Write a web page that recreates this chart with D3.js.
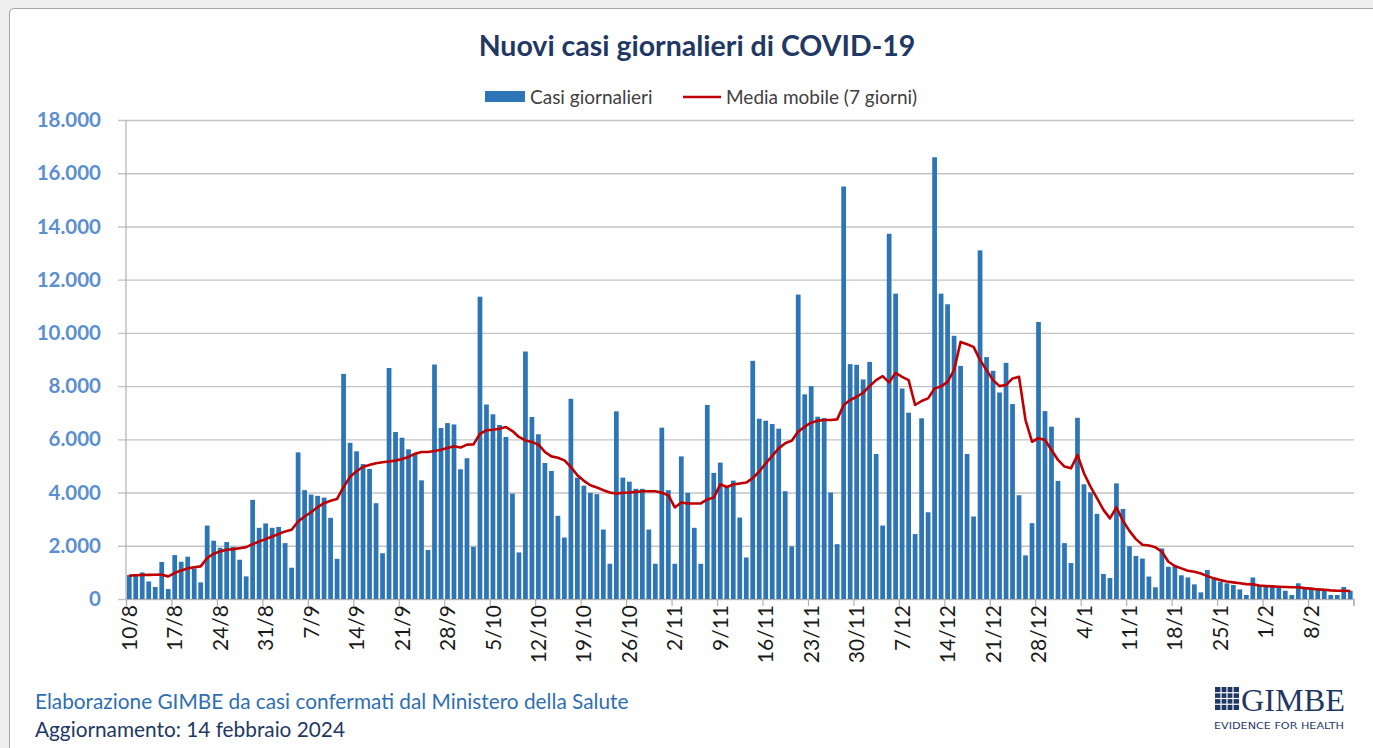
<!DOCTYPE html>
<html><head><meta charset="utf-8">
<script src="https://cdn.jsdelivr.net/npm/d3@7"></script>
<style>html,body{margin:0;padding:0;background:#fff;} svg{display:block;}</style>
</head><body><svg id="chart" width="1373" height="748"></svg>
<script>
// ---- DATA ----
const startDate = new Date(2023, 7, 10);
const tickLabels = ["10/8","17/8","24/8","31/8","7/9","14/9","21/9","28/9","5/10","12/10","19/10","26/10","2/11","9/11","16/11","23/11","30/11","7/12","14/12","21/12","28/12","4/1","11/1","18/1","25/1","1/2","8/2"];
const yTicks = [0, 2000, 4000, 6000, 8000, 10000, 12000, 14000, 16000, 18000];
const cases = [
  900, 900, 1000, 660, 450, 1390, 375,
  1650, 1400, 1590, 1150, 625, 2760, 2190,
  1925, 2140, 1960, 1475, 850, 3725, 2675,
  2840, 2675, 2710, 2100, 1175, 5510, 4090,
  3925, 3875, 3810, 3050, 1510, 8460, 5870,
  5550, 5070, 4890, 3600, 1720, 8680, 6275,
  6060, 5625, 5450, 4460, 1840, 8810, 6425,
  6610, 6560, 4875, 5290, 1960, 11360, 7310,
  6940, 6540, 6090, 3960, 1750, 9300, 6840,
  6190, 5110, 4810, 3125, 2310, 7525, 4560,
  4260, 3990, 3940, 2610, 1325, 7050, 4560,
  4410, 4140, 4140, 2610, 1325, 6440, 4090,
  1325, 5360, 3990, 2675, 1325, 7290, 4740,
  5125, 4210, 4450, 3060, 1560, 8950, 6775,
  6700, 6575, 6400, 4050, 1975, 11440, 7690,
  8000, 6850, 6800, 4000, 2060, 15500, 8825,
  8800, 8250, 8910, 5450, 2760, 13725, 11475,
  7910, 7000, 2440, 6790, 3260, 16600, 11475,
  11075, 9890, 8760, 5450, 3100, 13100, 9090,
  8575, 7760, 8875, 7325, 3900, 1640, 2850,
  10410, 7060, 6475, 4440, 2100, 1350, 6810,
  4310, 4010, 3200, 940, 790, 4345, 3385,
  1980, 1615, 1520, 845, 440, 1900, 1210,
  1240, 890, 810, 550, 250, 1090, 750,
  650, 590, 525, 360, 150, 810, 525,
  490, 460, 460, 310, 150, 590, 400,
  400, 360, 340, 150, 150, 450, 310
];
const movingAvg = [
  880, 890, 900, 905, 910, 915, 850,
  975, 1075, 1150, 1190, 1225, 1540, 1700,
  1790, 1850, 1875, 1910, 1950, 2060, 2160,
  2250, 2350, 2440, 2540, 2600, 2910, 3100,
  3260, 3450, 3600, 3690, 3760, 4210, 4590,
  4800, 4970, 5040, 5100, 5140, 5170, 5200,
  5260, 5340, 5460, 5525, 5525, 5560, 5610,
  5675, 5740, 5690, 5800, 5810, 6210, 6340,
  6360, 6400, 6460, 6310, 6090, 5960, 5900,
  5800, 5525, 5360, 5310, 5210, 4960, 4650,
  4440, 4275, 4190, 4090, 4000, 3960, 3990,
  4000, 4025, 4050, 4050, 4050, 3990, 3900,
  3440, 3625, 3590, 3590, 3590, 3740, 3810,
  4310, 4210, 4300, 4340, 4375, 4540, 4790,
  5100, 5375, 5660, 5850, 5950, 6290, 6475,
  6625, 6700, 6725, 6725, 6750, 7290, 7475,
  7600, 7750, 8000, 8225, 8375, 8140, 8500,
  8350, 8225, 7290, 7440, 7540, 7910, 7990,
  8160, 8600, 9660, 9575, 9475, 8975, 8600,
  8225, 8000, 8040, 8290, 8350, 6725, 5910,
  6040, 5975, 5600, 5225, 4975, 4910, 5410,
  4725, 4225, 3790, 3350, 3030, 3440, 2940,
  2560, 2250, 2040, 2010, 1940, 1775, 1400,
  1240, 1150, 1060, 1025, 960, 860, 775,
  710, 660, 625, 590, 560, 550, 510,
  490, 475, 460, 450, 440, 440, 410,
  390, 360, 350, 325, 310, 310, 300
];
const dates = d3.timeDay.range(startDate, d3.timeDay.offset(startDate, cases.length));

// ---- LAYOUT ----
const svg = d3.select("#chart");
const W = 1373, H = 748;
const plotL = 126, plotR = 1353.5, plotT = 120, plotB = 599;
const FONT = "Lato, 'Open Sans', sans-serif";

svg.append("rect").attr("width", W).attr("height", H).attr("fill", "#eeeeee");
svg.append("rect").attr("x", 9.5).attr("y", 8.5).attr("width", W + 20).attr("height", H + 20)
  .attr("rx", 4).attr("fill", "#ffffff").attr("stroke", "#a6a6a6");

const x = d3.scaleBand().domain(d3.range(dates.length)).range([plotL, plotR])
  .paddingInner(0.27).paddingOuter(0.135);
const xb = d3.scaleLinear().domain([0, dates.length]).range([plotL, plotR]);
const y = d3.scaleLinear().domain([0, 18000]).range([plotB, plotT]);
const fmt = d3.formatLocale({decimal: ",", thousands: ".", grouping: [3], currency: ["€", ""]}).format(",d");

// gridlines + y labels
const yAxis = svg.append("g").attr("transform", `translate(118,0)`)
  .call(d3.axisLeft(y).tickValues(yTicks).tickSize(-(1354 - 118)).tickPadding(17).tickFormat(fmt));
yAxis.select(".domain").remove();
yAxis.selectAll(".tick line").attr("stroke", "#c4c4c4").attr("stroke-width", 1.4);
yAxis.selectAll(".tick text").attr("fill", "#5b8fd0").attr("font-family", FONT)
  .attr("font-weight", "bold").attr("font-size", 20.5);

// vertical axis line
svg.append("line").attr("x1", plotL).attr("x2", plotL).attr("y1", plotT).attr("y2", plotB)
  .attr("stroke", "#b0b0b0").attr("stroke-width", 1.2);

// bars
svg.append("g").selectAll("rect").data(cases).join("rect")
  .attr("x", (d, i) => x(i)).attr("width", x.bandwidth())
  .attr("y", d => y(d)).attr("height", d => y(0) - y(d))
  .attr("fill", "#2e75b6");

// x axis boundary ticks
const xTickAxis = svg.append("g").attr("transform", `translate(0,${plotB})`)
  .call(d3.axisBottom(xb).tickValues(d3.range(0, dates.length + 1, 7)).tickSize(7).tickFormat(""));
xTickAxis.select(".domain").attr("stroke", "#b0b0b0").attr("stroke-width", 1.2);
xTickAxis.selectAll(".tick line").attr("stroke", "#b0b0b0").attr("stroke-width", 1.2);

// x labels
const xLab = svg.append("g").attr("transform", `translate(0,${plotB})`)
  .call(d3.axisBottom(x).tickValues(d3.range(0, dates.length, 7)).tickSize(0)
    .tickFormat((d, i) => tickLabels[i]));
xLab.select(".domain").remove();
xLab.selectAll(".tick text")
  .attr("transform", "rotate(-90)").attr("text-anchor", "end")
  .attr("x", -6).attr("y", 0).attr("dy", "0.36em")
  .attr("fill", "#1a1a1a").attr("font-family", FONT).attr("font-size", 21);

// moving average line
svg.append("path").datum(movingAvg)
  .attr("fill", "none").attr("stroke", "#c00000").attr("stroke-width", 2.6)
  .attr("stroke-linejoin", "round")
  .attr("d", d3.line().x((d, i) => x(i) + x.bandwidth() / 2).y(d => y(d)));

// title
svg.append("text").attr("x", 697).attr("y", 56).attr("text-anchor", "middle")
  .attr("font-family", FONT).attr("font-weight", "bold").attr("font-size", 28.5)
  .attr("fill", "#1f3864").text("Nuovi casi giornalieri di COVID-19");

// legend
svg.append("rect").attr("x", 485).attr("y", 91).attr("width", 40).attr("height", 11).attr("fill", "#2e75b6");
svg.append("text").attr("x", 530).attr("y", 103.5).attr("font-family", FONT).attr("font-size", 19)
  .attr("fill", "#404040").text("Casi giornalieri");
svg.append("line").attr("x1", 683).attr("x2", 721).attr("y1", 97).attr("y2", 97)
  .attr("stroke", "#c00000").attr("stroke-width", 2.6);
svg.append("text").attr("x", 726).attr("y", 103.5).attr("font-family", FONT).attr("font-size", 19)
  .attr("fill", "#404040").text("Media mobile (7 giorni)");

// footer
svg.append("text").attr("x", 35).attr("y", 709).attr("font-family", FONT).attr("font-size", 20.8)
  .attr("fill", "#2f6fb0").text("Elaborazione GIMBE da casi confermati dal Ministero della Salute");
svg.append("text").attr("x", 35).attr("y", 737).attr("font-family", FONT).attr("font-size", 20.8)
  .attr("fill", "#1f3864").text("Aggiornamento: 14 febbraio 2024");

// logo
const logo = svg.append("g");
logo.append("rect").attr("x", 1215).attr("y", 687).attr("width", 24).attr("height", 23).attr("fill", "#1f3864");
d3.range(1, 4).forEach(k => {
  logo.append("line").attr("x1", 1215 + k * 6).attr("x2", 1215 + k * 6).attr("y1", 687).attr("y2", 710)
    .attr("stroke", "#fff").attr("stroke-width", 1.2);
  logo.append("line").attr("x1", 1215).attr("x2", 1239).attr("y1", 687 + k * 5.75).attr("y2", 687 + k * 5.75)
    .attr("stroke", "#fff").attr("stroke-width", 1.2);
});
logo.append("text").attr("x", 1241).attr("y", 711).attr("font-family", "'Liberation Serif', serif")
  .attr("font-size", 31).attr("textLength", 104).attr("lengthAdjust", "spacingAndGlyphs")
  .attr("fill", "#1f3864").text("GIMBE");
logo.append("text").attr("x", 1214).attr("y", 729).attr("font-family", "'DejaVu Sans', sans-serif")
  .attr("font-size", 9).attr("textLength", 130).attr("lengthAdjust", "spacingAndGlyphs")
  .attr("fill", "#1f3864").text("EVIDENCE FOR HEALTH");
</script></body></html>
